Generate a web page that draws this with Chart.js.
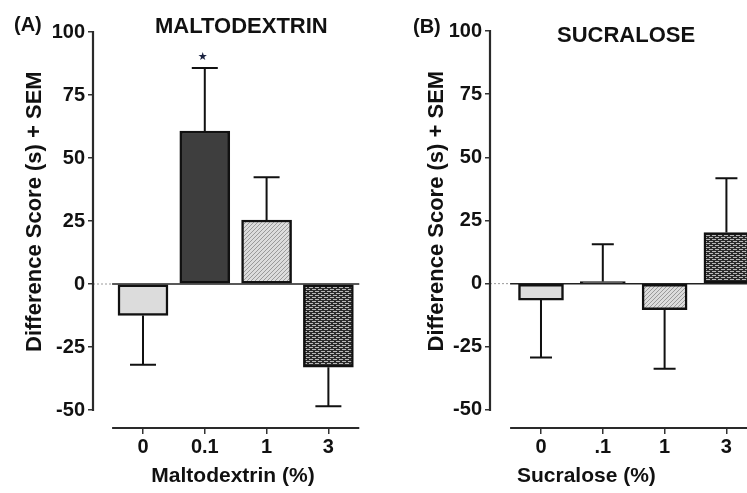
<!DOCTYPE html>
<html>
<head>
<meta charset="utf-8">
<script src="https://cdn.jsdelivr.net/npm/chart.js@4.4.1/dist/chart.umd.min.js"></script>
<style>
  html, body { margin: 0; padding: 0; background: #fff; }
  #wrap { position: relative; width: 747px; height: 493px; overflow: hidden; background: #fff; }
  .cv { position: absolute; top: 0; }
  .lbl { position: absolute; font-family: "Liberation Sans", Arial, sans-serif; font-weight: bold; color: #111; white-space: nowrap; line-height: 1; }
</style>
</head>
<body>
<div id="wrap">
  <div class="cv" style="left:0px;width:373px;height:493px;"><canvas id="cA"></canvas></div>
  <div class="cv" style="left:397px;width:350px;height:493px;"><canvas id="cB"></canvas></div>
  <div class="lbl" style="left:14px;top:14px;font-size:20px;">(A)</div>
  <div class="lbl" style="left:155px;top:15px;font-size:22px;">MALTODEXTRIN</div>
  <div class="lbl" style="left:413px;top:16px;font-size:20px;">(B)</div>
  <div class="lbl" style="left:557px;top:24px;font-size:22px;">SUCRALOSE</div>
</div>
<script>
// ---- data ----
const categoriesA = ['0', '0.1', '1', '3'];
const meansA = [-12.5, 60.7, 25.4, -33.0];
const semA = [19.5, 25.0, 17.0, 15.5];

const categoriesB = ['0', '.1', '1', '3'];
const meansB = [-6.5, 0.8, -10.3, 20.2];
const semB = [22.7, 14.8, 23.4, 21.5];

const yTicks = [-50, -25, 0, 25, 50, 75, 100];
const starA = [false, true, false, false];
const starB = [false, false, false, false];

// ---- patterns ----
function hatchPattern() {
  const c = document.createElement('canvas'); c.width = 4; c.height = 4;
  const g = c.getContext('2d');
  g.fillStyle = '#dcdcdc'; g.fillRect(0, 0, 4, 4);
  g.strokeStyle = '#9a9a9a'; g.lineWidth = 1;
  g.beginPath(); g.moveTo(0, 4); g.lineTo(4, 0); g.moveTo(-1, 1); g.lineTo(1, -1); g.moveTo(3, 5); g.lineTo(5, 3); g.stroke();
  return g.createPattern(c, 'repeat');
}
function brickPattern() {
  const c = document.createElement('canvas'); c.width = 6; c.height = 4;
  const g = c.getContext('2d');
  g.fillStyle = '#2b2b2b'; g.fillRect(0, 0, 6, 4);
  g.fillStyle = '#b8b8b8';
  g.fillRect(0, 1, 4, 1);
  g.fillRect(3, 3, 4, 1);
  g.fillRect(-3, 3, 4, 1);
  return g.createPattern(c, 'repeat');
}
const fills = ['#dcdcdc', '#3e3e3e', hatchPattern(), brickPattern()];

const FONT = '"Liberation Sans", Arial, sans-serif';

function makePlugin(means, sems, stars, capW, solidEnd) {
  return {
    id: 'decor',
    beforeDatasetsDraw(chart) {
      const { ctx, chartArea, scales: { x, y } } = chart;
      const y0 = y.getPixelForValue(0);
      const step = x.getPixelForValue(1) - x.getPixelForValue(0);
      const xs = x.getPixelForValue(0) - step / 2;
      ctx.save();
      ctx.strokeStyle = '#9a9a9a'; ctx.lineWidth = 1; ctx.setLineDash([2, 2]);
      ctx.beginPath(); ctx.moveTo(chartArea.left, y0); ctx.lineTo(xs, y0); ctx.stroke();
      ctx.setLineDash([]);
      ctx.strokeStyle = '#222'; ctx.lineWidth = 1.5;
      const xe = solidEnd === null ? x.getPixelForValue(means.length - 1) + step / 2 : chartArea.right;
      ctx.beginPath(); ctx.moveTo(xs, y0); ctx.lineTo(xe, y0); ctx.stroke();
      ctx.restore();
    },
    afterDatasetsDraw(chart) {
      const { ctx, scales: { x, y } } = chart;
      ctx.save();
      ctx.strokeStyle = '#111'; ctx.lineWidth = 2;
      means.forEach((m, i) => {
        const px = x.getPixelForValue(i);
        const end = m >= 0 ? m + sems[i] : m - sems[i];
        const p1 = y.getPixelForValue(m), p2 = y.getPixelForValue(end);
        ctx.beginPath();
        ctx.moveTo(px, p1); ctx.lineTo(px, p2);
        ctx.moveTo(px - capW / 2, p2); ctx.lineTo(px + capW / 2, p2);
        ctx.stroke();
        if (stars[i]) {
          ctx.fillStyle = '#1a2240';
          ctx.font = '11px "DejaVu Sans", sans-serif';
          ctx.textAlign = 'center'; ctx.textBaseline = 'middle';
          ctx.fillText('\u2605', px - 2, p2 - 11);
        }
      });
      ctx.restore();
    },
    afterDraw(chart) {
      const { ctx, chartArea, scales: { x, y } } = chart;
      const step = x.getPixelForValue(1) - x.getPixelForValue(0);
      ctx.save();
      ctx.strokeStyle = '#2a2a2a'; ctx.lineWidth = 2.2;
      ctx.beginPath();
      ctx.moveTo(chartArea.left, y.getPixelForValue(yTicks[yTicks.length - 1]) - 1);
      ctx.lineTo(chartArea.left, y.getPixelForValue(yTicks[0]) + 1);
      ctx.stroke();
      const xs = x.getPixelForValue(0) - step / 2;
      const xe = solidEnd === null ? x.getPixelForValue(means.length - 1) + step / 2 : chartArea.right;
      ctx.beginPath();
      ctx.moveTo(xs, chartArea.bottom); ctx.lineTo(xe, chartArea.bottom);
      ctx.stroke();
      ctx.restore();
    }
  };
}

function makeChart(id, cats, means, sems, stars, opt) {
  return new Chart(document.getElementById(id), {
    type: 'bar',
    data: {
      datasets: [{
        data: means.map((v, i) => ({ x: i, y: v })),
        backgroundColor: fills,
        borderColor: '#111',
        borderWidth: 2.5,
        borderSkipped: false,
        barThickness: opt.barW
      }]
    },
    options: {
      responsive: true,
      maintainAspectRatio: false,
      animation: false,
      layout: { padding: { top: opt.top, left: 0, right: 0, bottom: 0 } },
      plugins: { legend: { display: false }, tooltip: { enabled: false } },
      scales: {
        x: {
          type: 'linear',
          offset: false,
          min: opt.xmin, max: opt.xmax,
          afterBuildTicks: s => { s.ticks = cats.map((_, i) => ({ value: i })); },
          afterFit: s => { s.height = 65; },
          border: { display: false },
          grid: { offset: false, drawOnChartArea: false, drawTicks: true, tickLength: 6, color: '#333', lineWidth: 1.5 },
          ticks: {
            autoSkip: false, maxRotation: 0, padding: 1, color: '#111',
            font: { family: FONT, size: 20, weight: 'bold' },
            callback: (v, i) => cats[i]
          },
          title: {
            display: true, text: opt.xTitle, align: 'center', color: '#111',
            font: { family: FONT, size: 21, weight: 'bold' },
            padding: { top: 0, bottom: 4 }
          }
        },
        y: {
          min: -57.14, max: 100,
          afterBuildTicks: s => { s.ticks = yTicks.map(v => ({ value: v })); },
          afterFit: s => { s.width = 93; },
          border: { display: false },
          grid: { drawOnChartArea: false, drawTicks: true, tickLength: 5, color: '#333', lineWidth: 1.5 },
          ticks: { padding: 3, color: '#111', font: { family: FONT, size: 20, weight: 'bold' } },
          title: {
            display: true, text: '      Difference Score (s) + SEM', color: '#111',
            font: { family: FONT, size: 22, weight: 'bold' },
            padding: { top: opt.yTitlePad, bottom: 0 }
          }
        }
      }
    },
    plugins: [makePlugin(means, sems, stars, opt.capW, opt.solidEnd)]
  });
}

makeChart('cA', categoriesA, meansA, semA, starA, {
  top: 32, xmin: -0.809, xmax: 3.722, barW: 50, capW: 26,
  xTitle: 'Maltodextrin (%)', yTitlePad: 22, solidEnd: null
});
makeChart('cB', categoriesB, meansB, semB, starB, {
  top: 31, xmin: -0.825, xmax: 3.333, barW: 45, capW: 22,
  xTitle: 'Sucralose (%)' + '\u00a0'.repeat(11), yTitlePad: 27, solidEnd: true
});
</script>
</body>
</html>
